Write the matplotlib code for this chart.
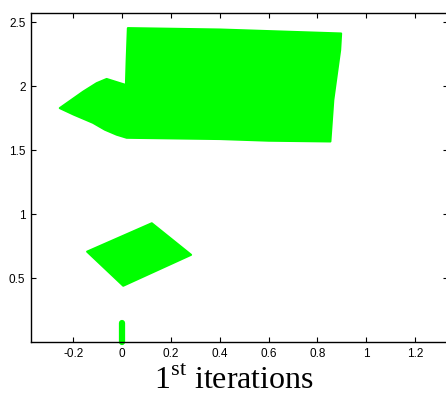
import matplotlib
matplotlib.use('Agg')
import matplotlib.pyplot as plt
from matplotlib.patches import Polygon

plt.rcParams['font.family'] = 'Liberation Sans'
plt.rcParams['mathtext.fontset'] = 'custom'
plt.rcParams['mathtext.rm'] = 'Liberation Serif'

# outline of the large cluster (rectangle with a tail on the left)
big_x = [0.023, 0.40, 0.897, 0.893, 0.865, 0.853, 0.60, 0.40, 0.05, 0.018,
         -0.023, -0.071, -0.120, -0.20, -0.256, -0.16, -0.105, -0.064, -0.009,
         0.015, 0.018]
big_y = [2.456, 2.445, 2.414, 2.284, 1.894, 1.569, 1.575, 1.588, 1.597, 1.598,
         1.622, 1.661, 1.715, 1.78, 1.83, 1.959, 2.025, 2.058, 2.025,
         2.011, 2.20]

# outline of the small cluster (parallelogram)
small_x = [-0.144, 0.121, 0.282, 0.004]
small_y = [0.707, 0.929, 0.682, 0.44]

# column of points at x = 0
col_x = [0.0, 0.0]
col_y = [0.0, 0.145]

xticks = [-0.2, 0, 0.2, 0.4, 0.6, 0.8, 1, 1.2]
xticklabels = ['-0.2', '0', '0.2', '0.4', '0.6', '0.8', '1', '1.2']
yticks = [0.5, 1, 1.5, 2, 2.5]
yticklabels = ['0.5', '1', '1.5', '2', '2.5']

green = '#00ff00'

fig = plt.figure(figsize=(4.46, 3.96), dpi=100)
ax = fig.add_axes([0.0695, 0.1364, 0.935, 0.832])

for xs, ys in [(big_x, big_y), (small_x, small_y)]:
    ax.add_patch(Polygon(list(zip(xs, ys)), closed=True, facecolor=green,
                         edgecolor=green, linewidth=1.5, joinstyle='round'))

ax.plot(col_x, col_y, color=green, linewidth=4.5, solid_capstyle='round',
        clip_on=False)

ax.set_xlim(-0.374, 1.335)
ax.set_ylim(0, 2.578)
ax.set_xticks(xticks)
ax.set_xticklabels(xticklabels)
ax.set_yticks(yticks)
ax.set_yticklabels(yticklabels)
ax.tick_params(direction='in', top=True, right=True, length=3.5, width=0.8,
               labelsize=8.5, pad=4)
for sp in ax.spines.values():
    sp.set_linewidth(1.0)

ax.set_xlabel('1$^{\\mathrm{st}}$ iterations', family='Liberation Serif',
              fontsize=23)
ax.xaxis.set_label_coords(0.488, -0.074)

fig.savefig('out.png', dpi=100)
